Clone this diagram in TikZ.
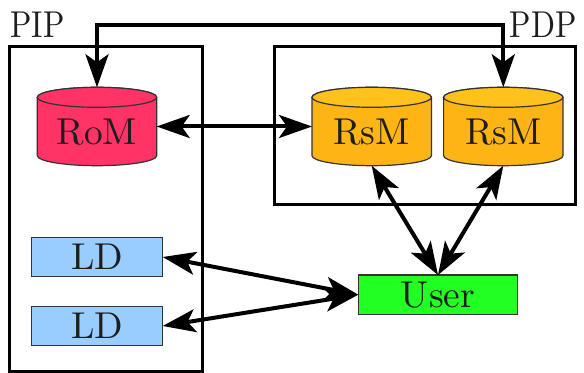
\documentclass[tikz,border=0pt]{standalone}
\usepackage{fontspec}
\newfontfamily\timesf{lmroman10-regular.otf}
\newfontfamily\narrowf{lmroman10-regular.otf}[FakeStretch=0.84]
\usetikzlibrary{arrows.meta}
\definecolor{rompink}{HTML}{FF3366}
\definecolor{rsmbody}{HTML}{FDB515}
\definecolor{rsmtop}{HTML}{FFC21C}
\definecolor{ldblue}{HTML}{99CCFF}
\definecolor{usergreen}{HTML}{22FF22}
\definecolor{thinline}{HTML}{333333}
\definecolor{txt}{HTML}{1E1E1E}
\tikzset{
  frame/.style={draw=black, line width=1.5pt, inner sep=0pt, outer sep=0pt},
  cylbox/.style={inner sep=0pt, outer sep=0pt, minimum width=59.7pt, minimum height=39.2pt},
  cylline/.style={draw=thinline, line width=0.6pt},
  flatbox/.style={draw=thinline, line width=0.6pt, inner sep=0pt, outer sep=0pt, text=txt,
    font=\timesf\fontsize{18.7}{22}\selectfont},
  lbl/.style={inner sep=0pt, text=txt, font=\timesf\fontsize{18.7}{22}\selectfont},
  framelbl/.style={inner sep=0pt, text=txt, font=\narrowf\fontsize{18.7}{22}\selectfont},
  link/.style={line width=2pt, {Stealth[length=16.5pt,width=11.5pt,inset=4pt]}-{Stealth[length=16.5pt,width=11.5pt,inset=4pt]}}
}
\newcommand{\mycyl}[5]{%
  \node[cylbox] (#1) at (#2,126.5) {};
  \path[cylline, fill=#3] ([yshift=-5pt]#1.north west) -- ([yshift=5pt]#1.south west)
    arc[start angle=180, end angle=360, x radius=29.85pt, y radius=5pt]
    -- ([yshift=-5pt]#1.north east)
    arc[start angle=0, end angle=180, x radius=29.85pt, y radius=5pt] -- cycle;
  \path[cylline, fill=#4] ([yshift=-5pt]#1.north) ellipse[x radius=29.85pt, y radius=5pt];
  \node[lbl, anchor=base] (#1-t) at (#2,145) {#5};
}
\begin{document}
\begin{tikzpicture}[x=0.5pt, y=-0.5pt]
\useasboundingbox (0,0) rectangle (584,373);
% frames
\node[frame, minimum width=96.5pt, minimum height=162.5pt] (pip) at (106,209) {};
\node[frame, minimum width=150.75pt, minimum height=79.25pt] (pdp) at (424.75,125.75) {};
\node[framelbl, anchor=base west] (piplbl) at (10,38) {PIP};
\node[framelbl, anchor=base east] (pdplbl) at (577,38) {PDP};
% cylinders
\mycyl{rom}{97}{rompink}{rompink}{RoM}
\mycyl{rsma}{371.7}{rsmbody}{rsmtop}{RsM}
\mycyl{rsmb}{503.3}{rsmbody}{rsmtop}{RsM}
% boxes
\node[flatbox, fill=ldblue, minimum width=65.5pt, minimum height=19.7pt] (lda) at (97.2,257) {LD};
\node[flatbox, fill=ldblue, minimum width=65.5pt, minimum height=19.7pt] (ldb) at (97.2,326) {LD};
\node[flatbox, fill=usergreen, minimum width=79.7pt, minimum height=19.65pt] (user) at (438,294.7) {User};
% connectors
\coordinate (topline) at (300,25);
\draw[link] (rom.north) |- (topline) -| (rsmb.north);
\draw[link] (rom.east) -- (rsma.west);
\draw[link] (rsma.south) -- (user.north);
\draw[link] (rsmb.south) -- (user.north);
\draw[link] (lda.east) -- (user.west);
\draw[link] (ldb.east) -- (user.west);
\end{tikzpicture}
\end{document}
